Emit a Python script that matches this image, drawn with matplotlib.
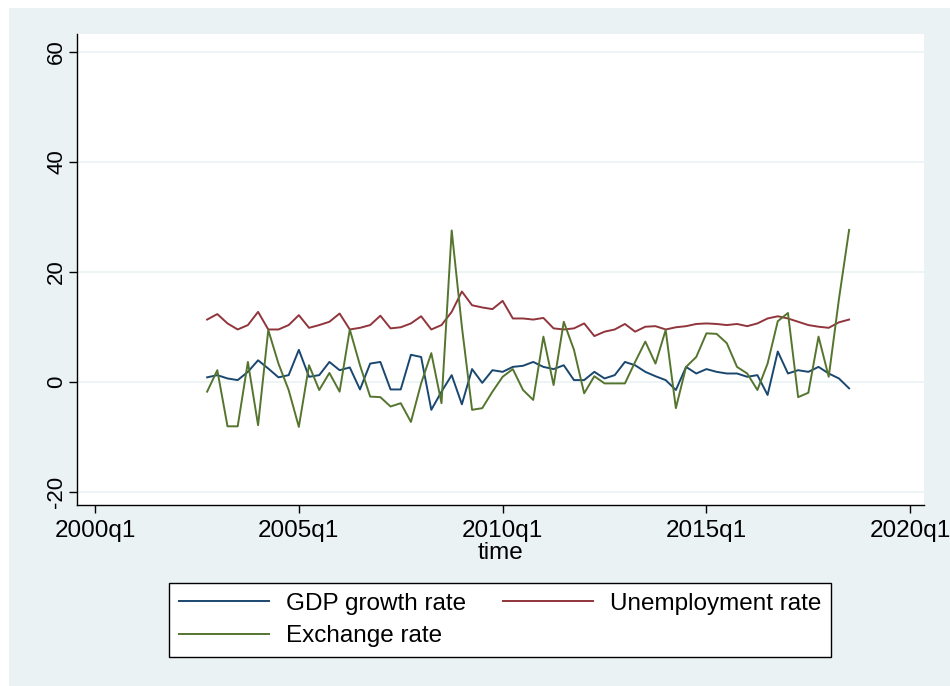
import matplotlib.pyplot as plt
import numpy as np
import pandas as pd
from matplotlib.patches import Rectangle

plt.rcParams['font.family'] = ['Liberation Sans', 'DejaVu Sans']

# quarterly series, 2002q4 .. 2018q3
quarters = pd.period_range('2002Q4', periods=64, freq='Q')

gdp_growth = [0.8, 1.2, 0.6, 0.3, 1.8, 3.9, 2.4, 0.8, 1.2, 5.8,
              0.9, 1.2, 3.6, 2.1, 2.6, -1.4, 3.3, 3.6, -1.4, -1.4,
              4.9, 4.5, -5.1, -1.8, 1.2, -4.1, 2.3, -0.2, 2.1, 1.8,
              2.7, 2.9, 3.6, 2.7, 2.3, 3.0, 0.3, 0.3, 1.8, 0.6,
              1.2, 3.6, 3.0, 1.8, 1.0, 0.3, -1.5, 2.7, 1.5, 2.3,
              1.8, 1.5, 1.5, 0.9, 1.2, -2.4, 5.5, 1.5, 2.1, 1.8,
              2.7, 1.5, 0.6, -1.2]

unemployment = [11.3, 12.3, 10.6, 9.5, 10.3, 12.7, 9.5, 9.5, 10.3, 12.1,
                9.8, 10.3, 10.9, 12.4, 9.5, 9.8, 10.3, 12.0, 9.7, 9.9,
                10.6, 11.9, 9.5, 10.3, 12.7, 16.4, 13.9, 13.5, 13.2, 14.7,
                11.5, 11.5, 11.3, 11.6, 9.7, 9.5, 9.7, 10.6, 8.3, 9.1,
                9.5, 10.5, 9.1, 10.0, 10.1, 9.5, 9.9, 10.1, 10.5, 10.6,
                10.5, 10.3, 10.5, 10.1, 10.6, 11.5, 11.9, 11.5, 10.9, 10.3,
                10.0, 9.8, 10.8, 11.3]

exchange = [-1.8, 2.1, -8.1, -8.1, 3.6, -7.9, 9.4, 3.3, -1.5, -8.2,
            3.0, -1.5, 1.6, -1.8, 9.5, 3.0, -2.7, -2.8, -4.5, -3.9,
            -7.3, -0.3, 5.2, -3.9, 27.5, 10.0, -5.1, -4.8, -1.8, 0.9,
            2.3, -1.5, -3.3, 8.2, -0.6, 10.9, 5.8, -2.1, 1.0, -0.3,
            -0.3, -0.3, 3.6, 7.3, 3.3, 9.4, -4.8, 2.7, 4.5, 8.8,
            8.7, 7.0, 2.7, 1.5, -1.5, 3.3, 11.0, 12.5, -2.8, -2.0,
            8.2, 0.9, 15.0, 27.6]

y_ticks = [-20, 0, 20, 40, 60]
x_tick_labels = ['2000q1', '2005q1', '2010q1', '2015q1', '2020q1']

# quarters counted from 2000q1 (like stata's %tq)
x = np.array([(p.year - 2000) * 4 + p.quarter - 1 for p in quarters])
x_ticks = [(int(s[:4]) - 2000) * 4 for s in x_tick_labels]

bg = '#eaf2f3'
fig = plt.figure(figsize=(9.5, 6.86), dpi=100, facecolor='white')
fig.patches.append(Rectangle((9 / 950, 0.0), 1.0, 1 - 8 / 686,
                             transform=fig.transFigure, facecolor=bg,
                             edgecolor='none', zorder=-10))

ax = fig.add_axes([77 / 950, 1 - 505 / 686, (924 - 77) / 950, (505 - 34) / 686])
ax.set_facecolor('white')

ax.plot(x, gdp_growth, color='#1a476f', lw=1.4, label='GDP growth rate')
ax.plot(x, unemployment, color='#90353b', lw=1.4, label='Unemployment rate')
ax.plot(x, exchange, color='#55752f', lw=1.4, label='Exchange rate')

ax.set_xlim(-1.77, 81.35)
ax.set_ylim(-22.4, 63.2)
ax.set_yticks(y_ticks)
ax.set_yticklabels([str(v) for v in y_ticks], rotation=90, va='center')
ax.set_xticks(x_ticks)
ax.set_xticklabels(x_tick_labels)

ax.grid(axis='y', color=bg, lw=1.2)
ax.set_axisbelow(True)
for side in ['top', 'right']:
    ax.spines[side].set_visible(False)
for side in ['left', 'bottom']:
    ax.spines[side].set_linewidth(1.0)
    ax.spines[side].set_color('black')

ax.tick_params(axis='both', direction='out', length=6, width=1.0,
               labelsize=17.5, pad=5)
ax.tick_params(axis='y', labelsize=16, pad=1)
ax.set_xlabel('time', fontsize=17.5, labelpad=0)

# column-major fill: GDP / Exchange in col 1, Unemployment in col 2
h, l = ax.get_legend_handles_labels()
order = [0, 2, 1]
leg = fig.legend([h[i] for i in order], [l[i] for i in order],
                 loc='center', bbox_to_anchor=(500 / 950, 1 - 620 / 686),
                 ncol=2, fontsize=17.5, handlelength=3.7, handletextpad=0.7,
                 columnspacing=1.5, labelspacing=0.45, borderpad=0.4,
                 frameon=True, fancybox=False, framealpha=1.0,
                 facecolor='white')
leg.get_frame().set_edgecolor('black')
leg.get_frame().set_linewidth(1.0)

fig.savefig('out.png', dpi=100, facecolor=fig.get_facecolor())
